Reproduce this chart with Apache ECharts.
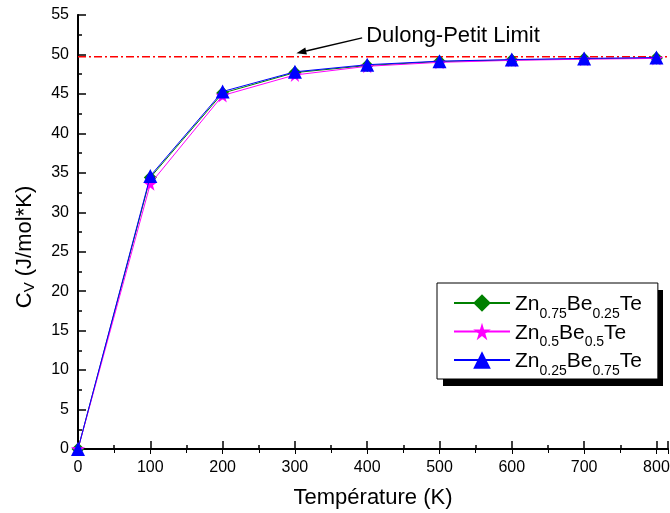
<!DOCTYPE html>
<html>
<head>
<meta charset="utf-8">
<script src="https://cdn.jsdelivr.net/npm/echarts@6/dist/echarts.min.js"></script>
<style>html,body{margin:0;padding:0;background:#fff}#c{width:670px;height:513px}</style>
</head>
<body>
<div id="c"></div>
<script>
const temps = [0, 100, 200, 300, 400, 500, 600, 700, 800];
const cvZn75 = [0, 34.4, 45.1, 47.7, 48.6, 49.1, 49.3, 49.45, 49.55];
const cvZn50 = [0, 33.6, 44.8, 47.4, 48.5, 49.0, 49.25, 49.4, 49.5];
const cvZn25 = [0, 34.6, 45.3, 47.8, 48.7, 49.15, 49.35, 49.5, 49.6];
const dulongPetit = 49.7;
const seriesNames = ['Zn75', 'Zn50', 'Zn25'];
const xMax = 816;

const chart = echarts.init(document.getElementById('c'));
const font = 'Liberation Sans, Arial, sans-serif';
function pts(v){ return temps.map((t,i)=>[t, v[i]]); }

const legendRich = {
  a: {fontSize: 21, fontFamily: font, color: '#000', verticalAlign: 'bottom', lineHeight: 24},
  s: {fontSize: 14, fontFamily: font, color: '#000', verticalAlign: 'bottom', padding: [0,0,-6,0], lineHeight: 24}
};
const legendText = {
  Zn75: '{a|Zn}{s|0.75}{a|Be}{s|0.25}{a|Te}',
  Zn50: '{a|Zn}{s|0.5}{a|Be}{s|0.5}{a|Te}',
  Zn25: '{a|Zn}{s|0.25}{a|Be}{s|0.75}{a|Te}'
};

const option = {
  animation: false,
  backgroundColor: '#fff',
  grid: {left: 78, right: 2, top: 15, bottom: 64, containLabel: false, outerBoundsMode: 'none'},
  legend: {
    orient: 'vertical',
    left: 437, top: 283,
    padding: [11, 16, 1, 16],
    itemGap: 1.5,
    itemWidth: 56, itemHeight: 22,
    backgroundColor: '#fff',
    borderColor: '#000', borderWidth: 1,
    z: 10,
    data: seriesNames,
    formatter: n => legendText[n],
    textStyle: {rich: legendRich, fontSize: 21, fontFamily: font}
  },
  xAxis: [{
    type: 'value', min: 0, max: xMax, interval: 100,
    name: 'Température (K)', nameLocation: 'middle', nameGap: 38,
    nameTextStyle: {fontSize: 22, fontFamily: font, color: '#000'},
    axisLine: {show: true, lineStyle: {color: '#000', width: 2}},
    axisTick: {show: true, inside: true, length: 8, lineStyle: {color: '#000', width: 1.5}},
    minorTick: {show: true, splitNumber: 2, length: 4, lineStyle: {color: '#000', width: 1.5}},
    axisLabel: {fontSize: 16, fontFamily: font, color: '#000', margin: 11,
      formatter: v => (v % 100 === 0 ? String(v) : '')},
    splitLine: {show: false}
  }, {
    type: 'value', min: 0, max: xMax, interval: 100, position: 'top',
    axisLine: {show: true, lineStyle: {color: '#000', width: 1.5}},
    axisTick: {show: true, inside: true, length: 5, lineStyle: {color: '#000', width: 1}},
    minorTick: {show: true, splitNumber: 2, length: 4, lineStyle: {color: '#000', width: 1}},
    axisLabel: {show: false}, splitLine: {show: false}
  }],
  yAxis: [{
    type: 'value', min: 0, max: 55, interval: 5,
    name: '{a|C}{s|V}{a| (J/mol*K)}', nameLocation: 'middle', nameGap: 42, nameRotate: 90,
    nameTextStyle: {fontFamily: font, color: '#000', padding: [0, 30, 0, 0], rich: {
      a: {fontSize: 22, fontFamily: font, color: '#000'},
      s: {fontSize: 15, fontFamily: font, color: '#000', padding: [0,0,-9,0]}
    }},
    axisLine: {show: true, lineStyle: {color: '#000', width: 2}},
    axisTick: {show: true, inside: true, length: 8, lineStyle: {color: '#000', width: 1.5}},
    minorTick: {show: true, splitNumber: 2, length: 4, lineStyle: {color: '#000', width: 1.5}},
    axisLabel: {fontSize: 16, fontFamily: font, color: '#000', margin: 9},
    splitLine: {show: false}
  }, {
    type: 'value', min: 0, max: 55, interval: 5, position: 'right',
    axisLine: {show: true, lineStyle: {color: '#000', width: 1.5}},
    axisTick: {show: false}, axisLabel: {show: false}, splitLine: {show: false}
  }],
  series: [
    {
      name: 'DP', type: 'line', data: [[0, dulongPetit], [xMax, dulongPetit]],
      symbol: 'none', silent: true, z: 1,
      lineStyle: {color: '#ff0000', width: 1.6, type: [8, 3, 2, 3]}
    },
    {
      name: 'Zn75', type: 'line', data: pts(cvZn75), z: 2,
      symbol: 'diamond', symbolSize: 13,
      itemStyle: {color: '#008000'}, lineStyle: {color: '#008000', width: 1}
    },
    {
      name: 'Zn50', type: 'line', data: pts(cvZn50), z: 3,
      symbol: 'path://M50,0 L61,35 L98,35 L68,57 L79,92 L50,70 L21,92 L32,57 L2,35 L39,35 Z', symbolSize: 14,
      itemStyle: {color: '#ff00ff'}, lineStyle: {color: '#ff00ff', width: 1}
    },
    {
      name: 'Zn25', type: 'line', data: pts(cvZn25), z: 4,
      symbol: 'triangle', symbolSize: 14,
      itemStyle: {color: '#0000ff'}, lineStyle: {color: '#0000ff', width: 1}
    }
  ]
};
chart.setOption(option);

const pStart = chart.convertToPixel({gridIndex: 0}, [393, 52.1]);
const pEnd = chart.convertToPixel({gridIndex: 0}, [302, 50.15]);
const dx = pEnd[0] - pStart[0], dy = pEnd[1] - pStart[1];
const len = Math.sqrt(dx*dx + dy*dy), ux = dx/len, uy = dy/len;
const hl = 10, hw = 3.5;
const bx = pEnd[0] - ux*hl, by = pEnd[1] - uy*hl;
chart.setOption({
  graphic: [
    {type: 'rect', left: 443, top: 290, z: 1, shape: {width: 220, height: 96}, style: {fill: '#000'}},
    {type: 'line', shape: {x1: pStart[0], y1: pStart[1], x2: bx, y2: by}, style: {stroke: '#000', lineWidth: 1.5}},
    {type: 'polygon', shape: {points: [[pEnd[0], pEnd[1]], [bx - uy*hw, by + ux*hw], [bx + uy*hw, by - ux*hw]]}, style: {fill: '#000'}},
    {type: 'text', x: pStart[0] + 4, y: pStart[1] - 2, style: {text: 'Dulong-Petit Limit', font: '22px Liberation Sans, Arial, sans-serif', fill: '#000', textVerticalAlign: 'middle'}}
  ]
});
</script>
</body>
</html>
